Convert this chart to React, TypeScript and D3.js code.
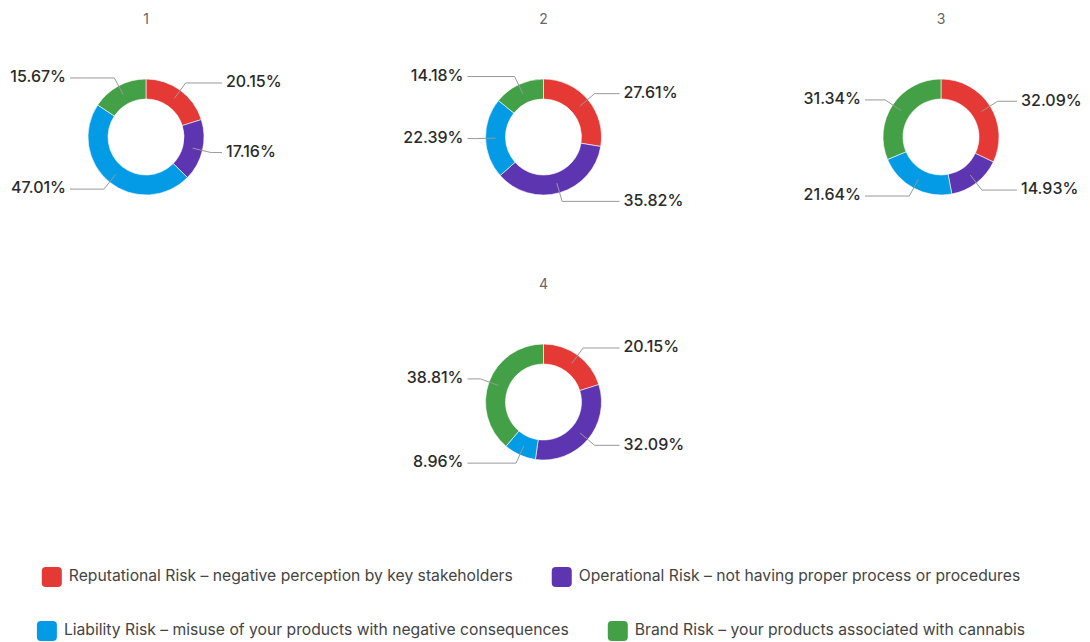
import React, { useEffect } from "react";
import * as d3 from "d3";

// slice order: reputational, operational, liability, brand
const categories = [
  "Reputational Risk – negative perception by key stakeholders",
  "Operational Risk – not having proper process or procedures",
  "Liability Risk – misuse of your products with negative consequences",
  "Brand Risk – your products associated with cannabis",
];
const colors = ["#E53935", "#5E35B1", "#039BE5", "#43A047"];

const chartTitles = ["1", "2", "3", "4"];
const chart1 = [20.15, 17.16, 47.01, 15.67];
const chart2 = [27.61, 35.82, 22.39, 14.18];
const chart3 = [32.09, 14.93, 21.64, 31.34];
const chart4 = [20.15, 32.09, 8.96, 38.81];
const series = [chart1, chart2, chart3, chart4];

// legend rows (indexes into categories)
const legendRows = [
  [0, 1],
  [2, 3],
];

const W = 1090;
const H = 642;
const FONT = "Inter, 'Noto Sans', sans-serif";

const outerR = 58;
const innerR = 38;

// grid placement: column -> x, row -> y
const colX = d3.scaleLinear().domain([0, 2]).range([146, 941]);
const rowY = d3.scaleLinear().domain([0, 1]).range([137, 402]);
const cells = [
  { col: 0, row: 0 },
  { col: 1, row: 0 },
  { col: 2, row: 0 },
  { col: 1, row: 1 },
];

const pie = d3
  .pie<number>()
  .sort(null)
  .value((d) => d);
const arc = d3.arc<d3.PieArcDatum<number>>().innerRadius(innerR).outerRadius(outerR);
const midArc = d3.arc<d3.PieArcDatum<number>>().innerRadius(48).outerRadius(48);
const elbowArc = d3.arc<d3.PieArcDatum<number>>().innerRadius(67).outerRadius(67);

const fmt = (v: number) => `${v.toFixed(2)}%`;

let measureCtx: CanvasRenderingContext2D | null = null;
function textWidth(s: string, font: string) {
  if (!measureCtx) measureCtx = document.createElement("canvas").getContext("2d");
  if (!measureCtx) return s.length * 7.8;
  measureCtx.font = font;
  return measureCtx.measureText(s).width;
}

function Donut({ values, title, cx, cy }: { values: number[]; title: string; cx: number; cy: number }) {
  const arcs = pie(values);
  return (
    <g transform={`translate(${cx},${cy})`}>
      <text y={-117} textAnchor="middle" dominantBaseline="middle" fontSize={14} fill="#666">
        {title}
      </text>
      {arcs.map((a, i) => (
        <path key={i} d={arc(a) || ""} fill={colors[i]} stroke="#fff" strokeWidth={0.6} />
      ))}
      {arcs.map((a, i) => {
        const mid = (a.startAngle + a.endAngle) / 2;
        const side = mid < Math.PI ? 1 : -1;
        const p0 = midArc.centroid(a);
        const p1 = elbowArc.centroid(a);
        const p2 = [side * 76, p1[1]];
        return (
          <g key={"l" + i}>
            <polyline
              points={[p0, p1, p2].map((p) => p.join(",")).join(" ")}
              fill="none"
              stroke="#999"
              strokeWidth={1}
            />
            <text
              x={side * 80}
              y={p1[1]}
              textAnchor={side > 0 ? "start" : "end"}
              dominantBaseline="middle"
              fontSize={16}
              fontWeight={500}
              fill="#2a2a2a"
            >
              {fmt(a.data)}
            </text>
          </g>
        );
      })}
    </g>
  );
}

function Legend() {
  const fs = 15.7;
  const font = `${fs}px ${FONT}`;
  const sw = 20;
  const gapText = 7;
  const gapItem = 39;
  const centerX = 531;
  const rowCenters = [577, 631];
  return (
    <g>
      {legendRows.map((row, r) => {
        const widths = row.map((ci) => sw + gapText + textWidth(categories[ci], font));
        const total = d3.sum(widths) + gapItem * (row.length - 1);
        let x = centerX - total / 2;
        return row.map((ci, k) => {
          const x0 = x;
          x += widths[k] + gapItem;
          const y = rowCenters[r];
          return (
            <g key={`${r}-${k}`}>
              <rect x={x0} y={y - sw / 2} width={sw} height={sw} rx={4} fill={colors[ci]} />
              <text x={x0 + sw + gapText} y={y} dominantBaseline="middle" fontSize={fs} fill="#444">
                {categories[ci]}
              </text>
            </g>
          );
        });
      })}
    </g>
  );
}

export default function App() {
  useEffect(() => {
    document.body.style.margin = "0";
  }, []);
  return (
    <svg
      width={W}
      height={H}
      viewBox={`0 0 ${W} ${H}`}
      style={{ display: "block", background: "#fff", fontFamily: FONT }}
    >
      {series.map((vals, i) => (
        <Donut
          key={i}
          values={vals}
          title={chartTitles[i]}
          cx={colX(cells[i].col)}
          cy={rowY(cells[i].row)}
        />
      ))}
      <Legend />
    </svg>
  );
}
